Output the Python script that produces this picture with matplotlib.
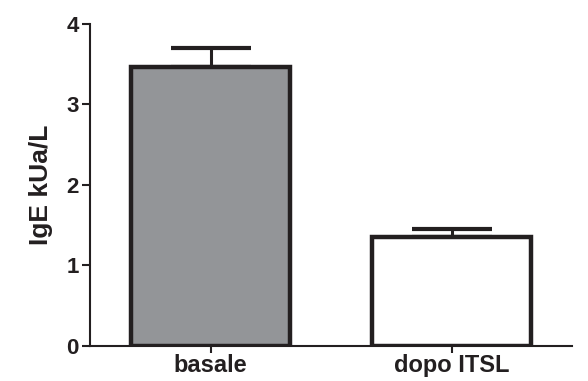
import matplotlib.pyplot as plt

plt.rcParams['font.family'] = ['Liberation Sans', 'DejaVu Sans']

groups = ["basale", "dopo ITSL"]
means = [3.46, 1.35]
errs = [0.24, 0.10]
colors = ["#939598", "#ffffff"]
ink = "#231f20"

fig = plt.figure(figsize=(5.88, 3.81), dpi=100)
ax = fig.add_axes([0.153, 0.092, 0.82, 0.845])

x = range(len(groups))
ax.bar(x, means, width=0.66, color=colors, edgecolor=ink, linewidth=3.2, zorder=2)
ax.errorbar(x, means, yerr=[[0, 0], errs], fmt="none", ecolor=ink,
            elinewidth=2.2, capsize=29, capthick=3, zorder=1)

ax.set_xlim(-0.5, 1.5)
ax.set_ylim(0, 4)
ax.set_yticks([0, 1, 2, 3, 4])
ax.set_xticks(list(x))
ax.set_xticklabels(groups, fontsize=17, fontweight="bold", color=ink)
for lab in ax.get_yticklabels():
    lab.set_fontsize(16)
    lab.set_fontweight("bold")
    lab.set_color(ink)
ax.set_ylabel("IgE kUa/L", fontsize=19, fontweight="bold", color=ink, labelpad=10)

for side in ["top", "right"]:
    ax.spines[side].set_visible(False)
for side in ["left", "bottom"]:
    ax.spines[side].set_linewidth(1.5)
    ax.spines[side].set_color(ink)
ax.tick_params(axis="y", length=6, width=1.5, color=ink, pad=2)
ax.tick_params(axis="x", length=5, width=1.5, color=ink, pad=1)

fig.savefig("out.png", dpi=100)
